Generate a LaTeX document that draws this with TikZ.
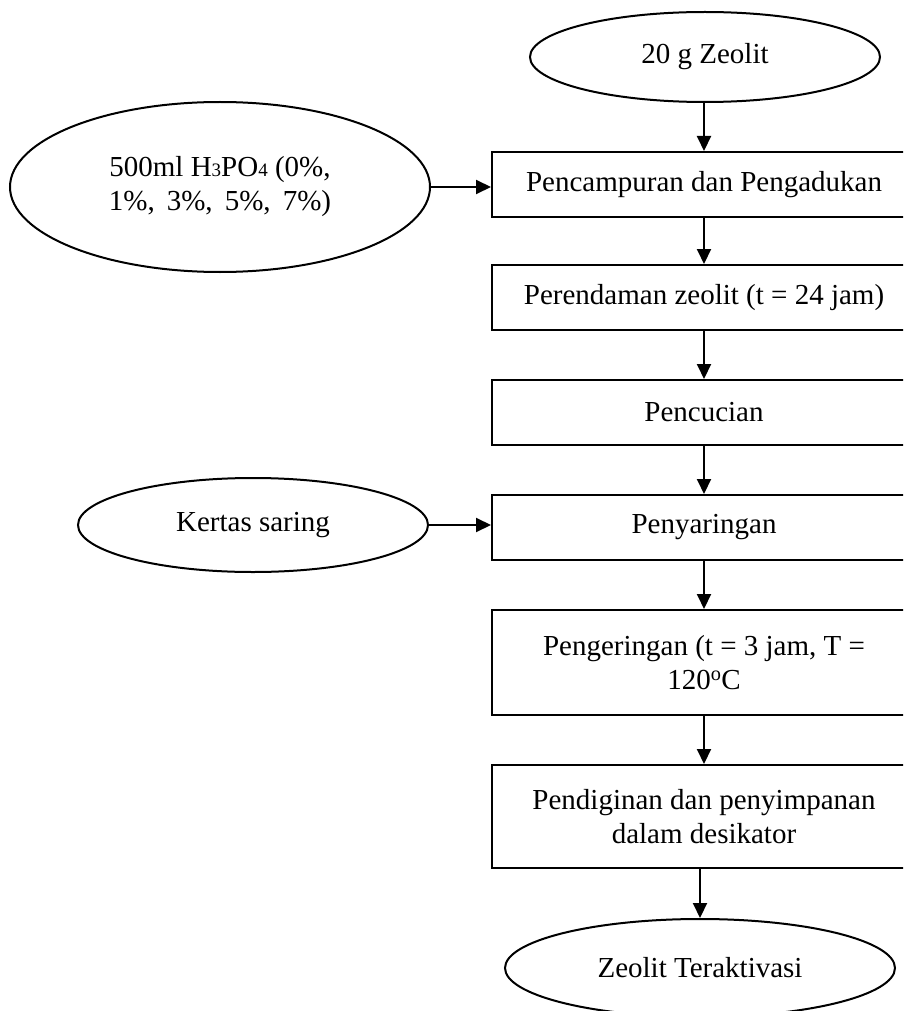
\documentclass[tikz,border=0pt]{standalone}
\usepackage{fontspec}
\setmainfont{Liberation Serif}
\usetikzlibrary{shapes.geometric,arrows.meta}
\newcommand{\smalldigit}[1]{{\fontsize{19}{19}\selectfont #1}}
\tikzset{
  every node/.style={font=\fontsize{29}{34}\selectfont, align=center, inner sep=0pt},
  stepbox/.style={draw, line width=2pt, rectangle, minimum width=424pt},
  oval/.style={draw, line width=2pt, ellipse},
  flow/.style={line width=2pt, -{Triangle[length=15pt,width=14pt]}}
}
\begin{document}
\begin{tikzpicture}[x=1pt,y=-1pt]
\useasboundingbox (0,0) rectangle (903,1011);
\clip (0,0) rectangle (903,1011);
\node[oval, minimum width=350pt, minimum height=90pt] (top) at (705,57) {20 g Zeolit};
\node[stepbox, minimum height=65pt] (b1) at (704,184.5) {Pencampuran dan Pengadukan};
\node[stepbox, minimum height=65pt] (b2) at (704,297.5) {Perendaman zeolit (t = 24 jam)};
\node[stepbox, minimum height=65pt] (b3) at (704,412.5) {Pencucian};
\node[stepbox, minimum height=65pt] (b4) at (704,527.5) {Penyaringan};
\node[stepbox, minimum height=105pt] (b5) at (704,662.5) {Pengeringan (t = 3 jam, T =\\120\textsuperscript{o}C};
\node[stepbox, minimum height=103pt] (b6) at (704,816.5) {Pendiginan dan penyimpanan\\dalam desikator};
\node[oval, minimum width=390pt, minimum height=98pt] (end) at (700,968) {Zeolit Teraktivasi};
\node[oval, minimum width=420pt, minimum height=170pt] (acid) at (220,187) {500ml H\smalldigit{3}PO\smalldigit{4} (0\%,\\1\%,\, 3\%,\, 5\%,\, 7\%)};
\node[oval, minimum width=350pt, minimum height=94pt] (kertas) at (253,525) {Kertas saring};

\draw[flow] (top.south -| b1.north) -- (b1.north);
\draw[flow] (b1.south) -- (b2.north);
\draw[flow] (b2.south) -- (b3.north);
\draw[flow] (b3.south) -- (b4.north);
\draw[flow] (b4.south) -- (b5.north);
\draw[flow] (b5.south) -- (b6.north);
\draw[flow] (b6.south -| end.north) -- (end.north);
\draw[flow] (acid.east) -- (acid.east -| b1.west);
\draw[flow] (kertas.east) -- (kertas.east -| b4.west);
\end{tikzpicture}
\end{document}
